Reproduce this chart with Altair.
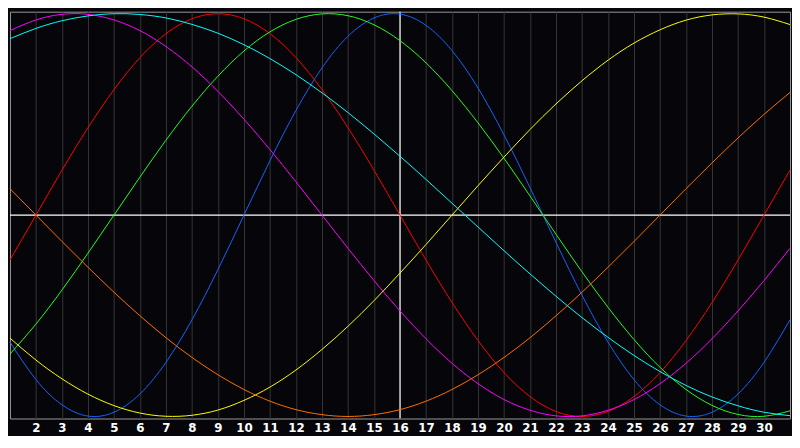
import altair as alt
import pandas as pd

# days shown on the chart (left edge = day 1, right edge = day 31)
days = list(range(1, 32))
day_labels = list(range(2, 31))

# cycle values per day (-1 .. 1)
physical = [-0.631, -0.817, -0.942, -0.998, -0.979, -0.888, -0.731, -0.520, -0.270, 0.000,
            0.270, 0.520, 0.731, 0.888, 0.979, 0.998, 0.942, 0.817, 0.631, 0.398,
            0.136, -0.136, -0.398, -0.631, -0.817, -0.942, -0.998, -0.979, -0.888, -0.731,
            -0.520]
emotional = [-0.223, 0.000, 0.223, 0.434, 0.623, 0.782, 0.901, 0.975, 1.000, 0.975,
             0.901, 0.782, 0.623, 0.434, 0.223, 0.000, -0.223, -0.434, -0.623, -0.782,
             -0.901, -0.975, -1.000, -0.975, -0.901, -0.782, -0.623, -0.434, -0.223, 0.000,
             0.223]
intellectual = [-0.690, -0.541, -0.372, -0.189, 0.000, 0.189, 0.372, 0.541, 0.690, 0.815,
                0.910, 0.972, 0.999, 0.990, 0.945, 0.866, 0.756, 0.618, 0.458, 0.282,
                0.095, -0.095, -0.282, -0.458, -0.618, -0.756, -0.866, -0.945, -0.990, -0.999,
                -0.972]
intuitive = [0.916, 0.969, 0.997, 0.997, 0.969, 0.916, 0.837, 0.736, 0.614, 0.476,
             0.325, 0.165, 0.000, -0.165, -0.325, -0.476, -0.614, -0.736, -0.837, -0.916,
             -0.969, -0.997, -0.997, -0.969, -0.916, -0.837, -0.736, -0.614, -0.476, -0.325,
             -0.165]
aesthetic = [-0.611, -0.720, -0.813, -0.889, -0.946, -0.983, -0.999, -0.994, -0.968, -0.920,
             -0.854, -0.769, -0.667, -0.552, -0.425, -0.288, -0.146, 0.000, 0.146, 0.288,
             0.425, 0.552, 0.667, 0.769, 0.854, 0.920, 0.968, 0.994, 0.999, 0.983,
             0.946]
awareness = [0.131, 0.000, -0.131, -0.259, -0.383, -0.500, -0.609, -0.707, -0.793, -0.866,
             -0.924, -0.966, -0.991, -1.000, -0.991, -0.966, -0.924, -0.866, -0.793, -0.707,
             -0.609, -0.500, -0.383, -0.259, -0.131, 0.000, 0.131, 0.259, 0.383, 0.500,
             0.609]
spiritual = [0.876, 0.927, 0.965, 0.989, 1.000, 0.996, 0.979, 0.947, 0.903, 0.846,
             0.777, 0.697, 0.607, 0.509, 0.403, 0.292, 0.177, 0.059, -0.059, -0.177,
             -0.292, -0.403, -0.509, -0.607, -0.697, -0.777, -0.846, -0.903, -0.947, -0.979,
             -0.996]

series_names = ["Physical", "Emotional", "Intellectual", "Intuitive",
                "Aesthetic", "Awareness", "Spiritual"]
series_colors = ["#1464ff", "#ff0000", "#20ff20", "#ff00ff",
                 "#ffff00", "#ff7000", "#00ffff"]
series_values = [physical, emotional, intellectual, intuitive,
                 aesthetic, awareness, spiritual]

rows = []
for name, vals in zip(series_names, series_values):
    for d, v in zip(days, vals):
        rows.append({"day": d, "value": v, "cycle": name})
df = pd.DataFrame(rows)

today = 16

x_scale = alt.Scale(domain=[1, 31], nice=False, zero=False)
y_scale = alt.Scale(domain=[-1.01, 1.01], nice=False)

# bottom axis: day labels plus the dark vertical grid
day_axis = alt.Axis(values=day_labels, grid=True, gridColor="#363636",
                    gridWidth=1, ticks=False, domain=False,
                    labelColor="white", labelFont="DejaVu Sans",
                    labelFontWeight="bold", labelFontSize=12,
                    labelPadding=4, labelFlush=False, labelOverlap=False,
                    format="d", title=None)

zero_line = (
    alt.Chart(pd.DataFrame({"value": [0]}))
    .mark_rule(color="white", strokeWidth=1.2)
    .encode(y=alt.Y("value:Q", scale=y_scale, axis=None))
)

today_line = (
    alt.Chart(pd.DataFrame({"day": [today]}))
    .mark_rule(color="white", strokeWidth=1.2)
    .encode(x=alt.X("day:Q", scale=x_scale, axis=day_axis))
)

lines = (
    alt.Chart(df)
    .mark_line(strokeWidth=1, interpolate="natural")
    .encode(
        x=alt.X("day:Q", scale=x_scale, axis=day_axis),
        y=alt.Y("value:Q", scale=y_scale, axis=None),
        color=alt.Color("cycle:N", scale=alt.Scale(domain=series_names, range=series_colors),
                        legend=None),
        detail="cycle:N",
    )
)

chart = (
    alt.layer(zero_line, today_line, lines)
    .properties(width=790, height=412, background="#060509", padding=0)
    .configure_view(stroke="#9a9a9a", strokeWidth=1)
)

chart.save("out.html", embed_options={"renderer": "svg", "actions": False})
